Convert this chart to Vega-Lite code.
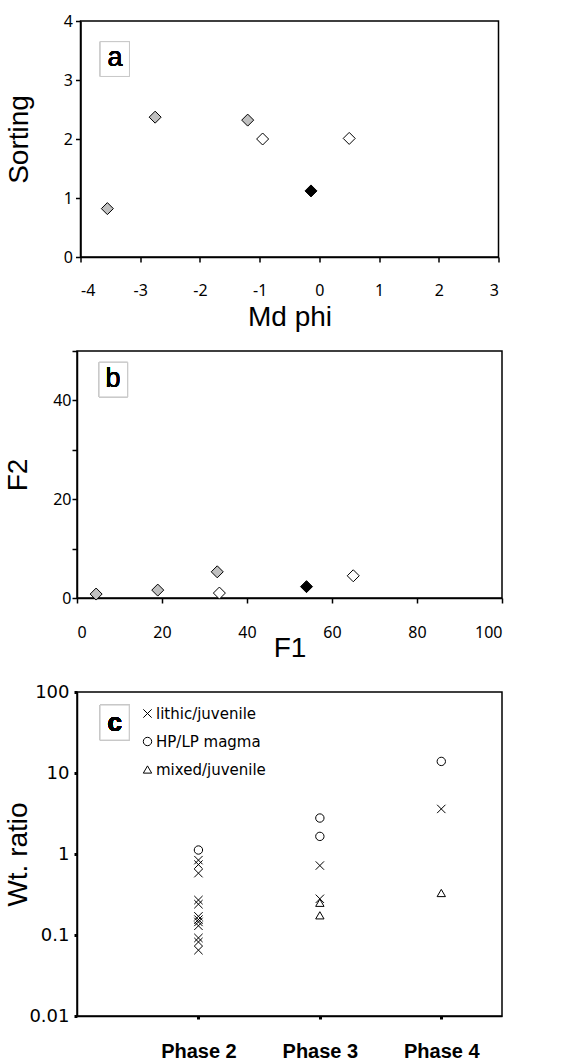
{
  "$schema": "https://vega.github.io/schema/vega-lite/v6.json",
  "background": "white",
  "padding": {"left": 3, "top": 12, "right": 5, "bottom": 5},
  "config": {
    "view": {"stroke": "black", "strokeWidth": 1.5},
    "axis": {
      "grid": false,
      "domainColor": "black",
      "domainWidth": 1.5,
      "tickColor": "black",
      "tickWidth": 1.5,
      "labelColor": "black",
      "titleColor": "black",
      "titleFont": "Liberation Sans",
      "titleFontWeight": "normal",
      "titleFontSize": 28
    }
  },
  "bounds": "flush",
  "center": true,
  "spacing": 94,
  "resolve": {"legend": {"shape": "independent", "fill": "independent"}},
  "vconcat": [
    {
      "width": 418,
      "height": 236,
      "data": {
        "values": [
          {"md": -3.55, "sorting": 0.82, "type": "grey"},
          {"md": -2.75, "sorting": 2.37, "type": "grey"},
          {"md": -1.2, "sorting": 2.32, "type": "grey"},
          {"md": -0.95, "sorting": 2.0, "type": "open"},
          {"md": 0.5, "sorting": 2.01, "type": "open"},
          {"md": -0.14, "sorting": 1.12, "type": "solid"}
        ]
      },
      "layer": [
        {
          "mark": {"type": "rect", "fill": "white", "stroke": "#c8c8c8", "strokeWidth": 1},
          "encoding": {
            "x": {"datum": -3.67, "type": "quantitative"},
            "x2": {"datum": -3.18},
            "y": {"datum": 3.06, "type": "quantitative"},
            "y2": {"datum": 3.65}
          }
        },
        {
          "mark": {"type": "text", "text": "a", "font": "Liberation Sans", "fontSize": 27, "align": "center", "baseline": "middle", "fill": "black"},
          "encoding": {
            "x": {"datum": -3.42, "type": "quantitative"},
            "y": {"datum": 3.37, "type": "quantitative"}
          }
        },
        {
          "mark": {"type": "point", "shape": "diamond", "filled": true, "size": 144, "stroke": "black", "strokeWidth": 1, "opacity": 1},
          "encoding": {
            "x": {
              "field": "md", "type": "quantitative",
              "scale": {"domain": [-4, 3], "nice": false, "zero": false},
              "axis": {
                "title": "Md phi",
                "values": [-4, -3, -2, -1, 0, 1, 2, 3],
                "labelExpr": "datum.value < 0 ? '-' + abs(datum.value) : '' + datum.value",
                "tickSize": 5, "labelPadding": 20,
                "labelFont": "Noto Sans", "labelFontSize": 16,
                "titlePadding": 5
              }
            },
            "y": {
              "field": "sorting", "type": "quantitative",
              "scale": {"domain": [0, 4], "nice": false},
              "axis": {
                "title": "Sorting",
                "values": [0, 0.5, 1, 1.5, 2, 2.5, 3, 3.5, 4],
                "labelExpr": "datum.value % 1 === 0 ? format(datum.value, 'd') : ''",
                "tickSize": 5, "labelPadding": 3,
                "labelFont": "Noto Sans", "labelFontSize": 16,
                "titleX": -47
              }
            },
            "fill": {
              "field": "type", "type": "nominal",
              "scale": {"domain": ["grey", "open", "solid"], "range": ["#c0c0c0", "white", "black"]},
              "legend": null
            }
          }
        }
      ]
    },
    {
      "width": 425,
      "height": 247,
      "data": {
        "values": [
          {"f1": 4.5, "f2": 0.8, "type": "grey"},
          {"f1": 19, "f2": 1.6, "type": "grey"},
          {"f1": 33, "f2": 5.3, "type": "grey"},
          {"f1": 33.5, "f2": 1.0, "type": "open"},
          {"f1": 54, "f2": 2.3, "type": "solid"},
          {"f1": 65, "f2": 4.5, "type": "open"}
        ]
      },
      "layer": [
        {
          "mark": {"type": "rect", "fill": "white", "stroke": "#c8c8c8", "strokeWidth": 1},
          "encoding": {
            "x": {"datum": 5.2, "type": "quantitative"},
            "x2": {"datum": 11.9},
            "y": {"datum": 40.7, "type": "quantitative"},
            "y2": {"datum": 47.7}
          }
        },
        {
          "mark": {"type": "text", "text": "b", "font": "Liberation Sans", "fontSize": 27, "align": "center", "baseline": "middle", "fill": "black"},
          "encoding": {
            "x": {"datum": 8.5, "type": "quantitative"},
            "y": {"datum": 44.4, "type": "quantitative"}
          }
        },
        {
          "mark": {"type": "point", "shape": "diamond", "filled": true, "size": 144, "stroke": "black", "strokeWidth": 1, "opacity": 1},
          "encoding": {
            "x": {
              "field": "f1", "type": "quantitative",
              "scale": {"domain": [0, 100], "nice": false},
              "axis": {
                "title": "F1",
                "values": [0, 20, 40, 60, 80, 100],
                "tickSize": 5, "labelPadding": 21,
                "labelFont": "Noto Sans", "labelFontSize": 16,
                "titlePadding": -6
              }
            },
            "y": {
              "field": "f2", "type": "quantitative",
              "scale": {"domain": [0, 50], "nice": false},
              "axis": {
                "title": "F2",
                "values": [0, 10, 20, 30, 40, 50],
                "labelExpr": "datum.value % 20 === 0 ? datum.label : ''",
                "tickSize": 5, "labelPadding": 1,
                "labelFont": "Noto Sans", "labelFontSize": 16,
                "titleX": -45
              }
            },
            "fill": {
              "field": "type", "type": "nominal",
              "scale": {"domain": ["grey", "open", "solid"], "range": ["#c0c0c0", "white", "black"]},
              "legend": null
            }
          }
        }
      ]
    },
    {
      "width": 425,
      "height": 324,
      "data": {
        "values": [
          {"phase": 2, "ratio": 1.12, "type": "HP/LP magma"},
          {"phase": 2, "ratio": 0.84, "type": "lithic/juvenile"},
          {"phase": 2, "ratio": 0.74, "type": "lithic/juvenile"},
          {"phase": 2, "ratio": 0.58, "type": "lithic/juvenile"},
          {"phase": 2, "ratio": 0.27, "type": "lithic/juvenile"},
          {"phase": 2, "ratio": 0.24, "type": "lithic/juvenile"},
          {"phase": 2, "ratio": 0.17, "type": "lithic/juvenile"},
          {"phase": 2, "ratio": 0.155, "type": "lithic/juvenile"},
          {"phase": 2, "ratio": 0.145, "type": "lithic/juvenile"},
          {"phase": 2, "ratio": 0.13, "type": "lithic/juvenile"},
          {"phase": 2, "ratio": 0.092, "type": "lithic/juvenile"},
          {"phase": 2, "ratio": 0.082, "type": "lithic/juvenile"},
          {"phase": 2, "ratio": 0.065, "type": "lithic/juvenile"},
          {"phase": 3, "ratio": 2.78, "type": "HP/LP magma"},
          {"phase": 3, "ratio": 1.65, "type": "HP/LP magma"},
          {"phase": 3, "ratio": 0.72, "type": "lithic/juvenile"},
          {"phase": 3, "ratio": 0.28, "type": "lithic/juvenile"},
          {"phase": 3, "ratio": 0.25, "type": "mixed/juvenile"},
          {"phase": 3, "ratio": 0.175, "type": "mixed/juvenile"},
          {"phase": 4, "ratio": 13.9, "type": "HP/LP magma"},
          {"phase": 4, "ratio": 3.6, "type": "lithic/juvenile"},
          {"phase": 4, "ratio": 0.33, "type": "mixed/juvenile"}
        ]
      },
      "layer": [
        {
          "mark": {"type": "rect", "fill": "white", "stroke": "#c8c8c8", "strokeWidth": 1},
          "encoding": {
            "x": {"datum": 1.19, "type": "quantitative"},
            "x2": {"datum": 1.43},
            "y": {"datum": 25.5, "type": "quantitative"},
            "y2": {"datum": 69}
          }
        },
        {
          "mark": {"type": "text", "text": "c", "font": "Liberation Sans", "fontWeight": "bold", "fontSize": 26, "align": "center", "baseline": "middle", "fill": "black"},
          "encoding": {
            "x": {"datum": 1.31, "type": "quantitative"},
            "y": {"datum": 41, "type": "quantitative"}
          }
        },
        {
          "mark": {"type": "point", "filled": false, "size": 70, "color": "black", "strokeWidth": 1, "opacity": 1},
          "encoding": {
            "x": {
              "field": "phase", "type": "quantitative",
              "scale": {"domain": [1, 4.5], "nice": false, "zero": false},
              "axis": {
                "title": null,
                "values": [2, 3, 4],
                "labelExpr": "'Phase ' + datum.value",
                "tickSize": 3, "tickWidth": 3, "labelPadding": 22,
                "labelFont": "Liberation Sans", "labelFontWeight": "bold", "labelFontSize": 20
              }
            },
            "y": {
              "field": "ratio", "type": "quantitative",
              "scale": {"type": "log", "domain": [0.01, 100], "nice": false},
              "axis": {
                "title": "Wt. ratio",
                "values": [0.01, 0.1, 1, 10, 100],
                "format": "~g",
                "tickSize": 3, "tickWidth": 3, "labelPadding": 5,
                "labelFont": "DejaVu Sans", "labelFontSize": 18,
                "titleX": -45
              }
            },
            "shape": {
              "field": "type", "type": "nominal",
              "scale": {
                "domain": ["lithic/juvenile", "HP/LP magma", "mixed/juvenile"],
                "range": ["M-1,-1L1,1M-1,1L1,-1", "circle", "triangle-up"]
              },
              "legend": {
                "title": null,
                "orient": "none",
                "legendX": 63,
                "legendY": 14,
                "padding": 0,
                "rowPadding": 12,
                "labelFont": "DejaVu Sans",
                "labelFontSize": 15,
                "labelColor": "black",
                "labelOffset": 1,
                "labelLimit": 300,
                "symbolSize": 70,
                "symbolStrokeWidth": 1,
                "symbolStrokeColor": "black",
                "symbolFillColor": "transparent"
              }
            }
          }
        }
      ]
    }
  ]
}
